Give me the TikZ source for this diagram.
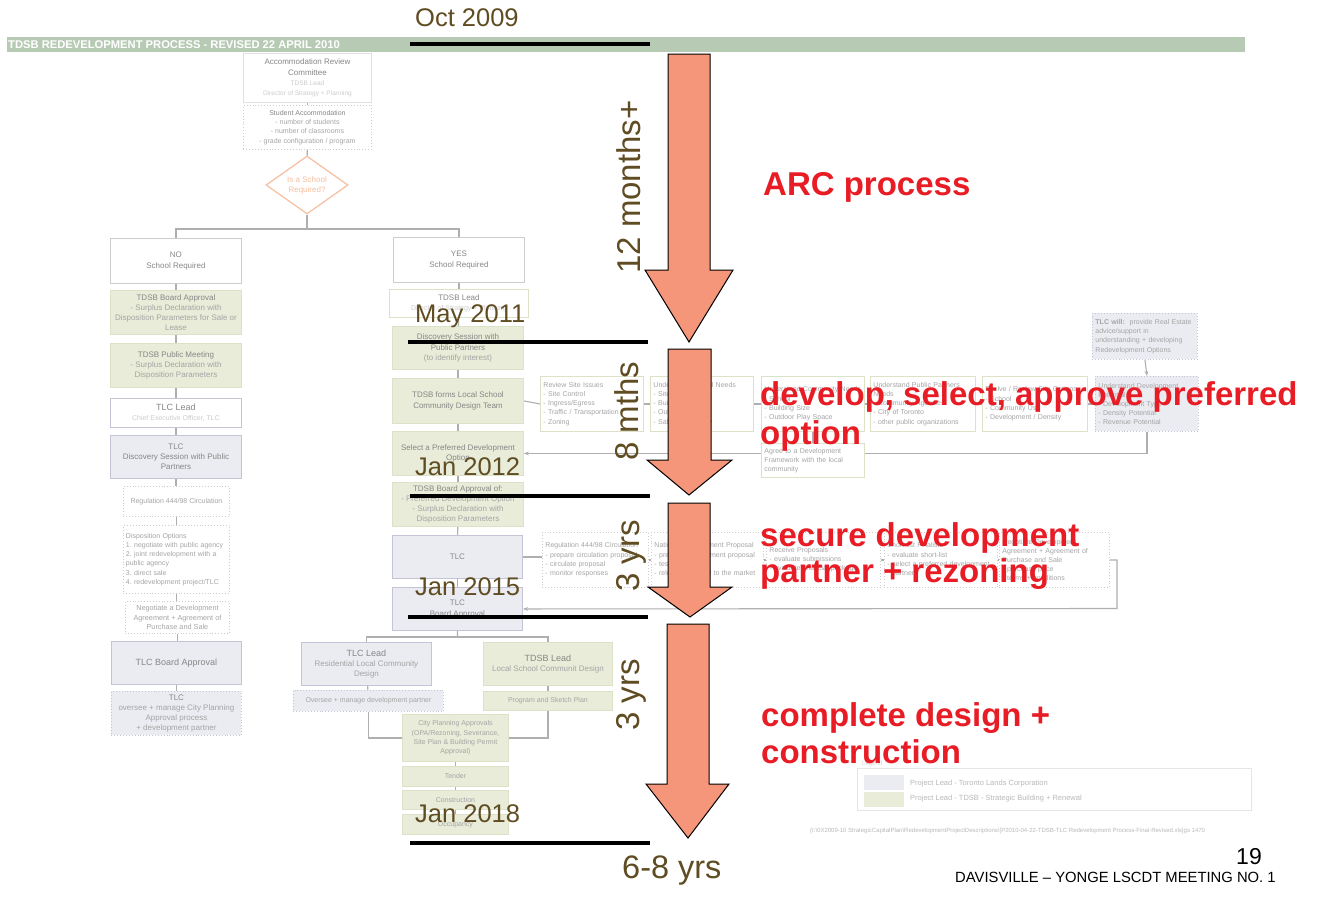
\documentclass[tikz,border=0pt]{standalone}
\usepackage{fontspec}
\setmainfont{Liberation Sans}
\usetikzlibrary{shapes.geometric,arrows.meta}
\definecolor{bandc}{RGB}{183,203,180}
\definecolor{gfill}{RGB}{232,236,216}
\definecolor{gbord}{RGB}{220,226,200}
\definecolor{lfill}{RGB}{235,235,242}
\definecolor{lbord}{RGB}{196,196,214}
\definecolor{wbord}{RGB}{205,205,205}
\definecolor{ftext}{RGB}{165,165,165}
\definecolor{ftitle}{RGB}{135,135,135}
\definecolor{conc}{RGB}{175,175,175}
\definecolor{orc}{RGB}{246,190,160}
\definecolor{datec}{RGB}{96,76,34}
\definecolor{salmon}{RGB}{245,149,121}
\definecolor{redc}{RGB}{232,28,36}
\definecolor{pathc}{RGB}{185,185,185}
\newcommand\boxttl[1]{{\color{ftitle}#1}}
\pgfdeclarelayer{bglayer}
\pgfsetlayers{bglayer,main}
\begin{document}
\begin{tikzpicture}[x=1pt,y=-1pt,
 base/.style={anchor=north west, inner sep=1pt, align=center, text=ftext, font=\fontsize{8}{10.2}\selectfont, line width=0.9},
 wbox/.style={base, draw=wbord, fill=white},
 wlbox/.style={base, draw=lbord, fill=white},
 wgbox/.style={base, draw=gbord, fill=white},
 gbox/.style={base, draw=gbord, fill=gfill},
 lbox/.style={base, draw=lbord, fill=lfill},
 dbox/.style={base, draw=wbord, dotted, fill=white},
 ldbox/.style={base, draw=lbord, dotted, fill=lfill},
 rowf/.style={font=\fontsize{7}{9.2}\selectfont, align=left, text width=#1},
 sz/.style 2 args={minimum width=#1, minimum height=#2},
 conn/.style={draw=conc, line width=1.1},
 tline/.style={draw=black, line width=4.5},
 barrow/.style={fill=salmon, draw=black, line width=1},
 datet/.style={anchor=base west, text=datec, font=\fontsize{25.5}{30}\selectfont, inner sep=0},
 dur/.style={anchor=base, rotate=90, text=datec, font=\fontsize{33}{40}\selectfont, inner sep=0},
 redt/.style={anchor=base west, text=redc, font=\bfseries\fontsize{33}{40}\selectfont, inner sep=0}
]
\useasboundingbox (0,0) rectangle (1343,898);
\begin{pgfonlayer}{bglayer}
\fill[white] (0,0) rectangle (1343,898);
\end{pgfonlayer}

% ---------- header band ----------
\fill[bandc] (7,37) rectangle (1245,52);
\node[anchor=west, text=white, font=\bfseries\fontsize{11.2}{13}\selectfont, inner sep=0] (bt) at (8,44.5) {TDSB REDEVELOPMENT PROCESS - REVISED 22 APRIL 2010};

\coordinate (split) at (307,229);
\coordinate (sp2) at (457.5,637);
\coordinate (rx) at (1117,608.5);

% ---------- top ----------
\node[wbox, sz={128}{49}, draw=wbord!60] (arc) at (243,53) {\boxttl{Accommodation Review}\\\boxttl{Committee}\\{\fontsize{6.5}{8}\selectfont\color{gray!40}TDSB Lead}\\{\fontsize{6.5}{8}\selectfont\color{gray!40}Director of Strategy + Planning}};
\node[dbox, sz={128}{44}, font=\fontsize{7}{9.2}\selectfont] (stud) at (243,105) {\boxttl{Student Accommodation}\\- number of students\\- number of classrooms\\- grade configuration / program};
\node[diamond, draw=orc, line width=1.2, text=orc, minimum width=82, minimum height=58, inner sep=0, aspect=1.4, align=center, font=\fontsize{8}{10}\selectfont] (diam) at (307,185) {Is a School\\Required?};

% ---------- left column ----------
\node[wbox, sz={131}{45}] (nob) at (110,238) {\boxttl{NO}\\\boxttl{School Required}};
\node[gbox, sz={131}{44}] (lb1) at (110,290) {\boxttl{TDSB Board Approval}\\- Surplus Declaration with\\Disposition Parameters for Sale or\\Lease};
\node[gbox, sz={131}{44}] (lb2) at (110,343) {\boxttl{TDSB Public Meeting}\\- Surplus Declaration with\\Disposition Parameters};
\node[wlbox, sz={131}{29}] (lb3) at (110,398) {{\fontsize{9}{11}\selectfont\boxttl{TLC Lead}}\\{\fontsize{7}{9}\selectfont\color{gray!40}Chief Executive Officer, TLC}};
\node[lbox, sz={131}{43}] (lb4) at (110,435) {\boxttl{TLC}\\\boxttl{Discovery Session with Public}\\\boxttl{Partners}};
\node[dbox, sz={106}{30}, font=\fontsize{7}{9}\selectfont] (lb5) at (123,486) {Regulation 444/98 Circulation};
\node[dbox, sz={106}{68}, rowf=101] (lb6) at (123,525) {Disposition Options\\1.\ negotiate with public agency\\2.\ joint redevelopment with a\\public agency\\3.\ direct sale\\4.\ redevelopment project/TLC};
\node[dbox, sz={104}{32}, font=\fontsize{7.3}{9.4}\selectfont] (lb7) at (125,601) {Negotiate a Development\\Agreement + Agreement of\\Purchase and Sale};
\node[lbox, sz={130}{43}, font=\fontsize{9}{11}\selectfont] (lb8) at (111,641) {\boxttl{TLC Board Approval}};
\node[ldbox, sz={130}{44}] (lb9) at (111,691) {\boxttl{TLC}\\oversee + manage City Planning\\Approval process\\+ development partner};

% ---------- right column ----------
\node[wbox, sz={131}{45}] (yes) at (393,237) {\boxttl{YES}\\\boxttl{School Required}};
\node[wgbox, sz={139}{28}] (rb1) at (389,289) {\boxttl{TDSB Lead}\\{\fontsize{7}{9}\selectfont\color{gray!40}Director of Strategy + Planning}};
\node[gbox, sz={131}{43}] (rb2) at (392,326) {\boxttl{Discovery Session with}\\\boxttl{Public Partners}\\(to identify interest)};
\node[gbox, sz={131}{45}] (rb3) at (392,378) {\boxttl{TDSB forms Local School}\\\boxttl{Community Design Team}};
\node[gbox, sz={131}{44}] (sel) at (392,431) {\boxttl{Select a Preferred Development}\\\boxttl{Option}};
\node[gbox, sz={131}{44}] (rb5) at (392,482) {\boxttl{TDSB Board Approval of:}\\- Preferred Development Option\\- Surplus Declaration with\\Disposition Parameters};
\node[lbox, sz={130}{43}] (tlc) at (392,535) {\boxttl{TLC}};
\node[lbox, sz={130}{43}] (tlcba) at (392,587) {\boxttl{TLC}\\\boxttl{Board Approval}};
\node[lbox, sz={130}{43}] (tlclead) at (301,642) {{\fontsize{9}{11}\selectfont\boxttl{TLC Lead}}\\Residential Local Community\\Design};
\node[ldbox, sz={150}{21}, font=\fontsize{7}{9}\selectfont] (oversee) at (293,690) {Oversee + manage development partner};
\node[gbox, sz={129}{43}] (tdlead) at (483,642) {{\fontsize{9}{11}\selectfont\boxttl{TDSB Lead}}\\Local School Communit Design};
\node[gbox, sz={129}{19}, font=\fontsize{7}{9}\selectfont] (prog) at (483,691) {Program and Sketch Plan};
\node[gbox, sz={106}{47}, font=\fontsize{7}{9.4}\selectfont] (cpa) at (402,714) {City Planning Approvals\\(OPA/Rezoning, Severance,\\Site Plan \& Building Permit\\Approval)};
\node[gbox, sz={106}{20}, font=\fontsize{7}{9}\selectfont] (tender) at (402,766) {Tender};
\node[gbox, sz={106}{19}, font=\fontsize{7}{9}\selectfont] (constr) at (402,790) {Construction};
\node[gbox, sz={106}{20}, font=\fontsize{7}{9}\selectfont] (occ) at (402,814) {Occupancy};

% ---------- row 1 ----------
\node[wgbox, sz={103}{55}, rowf=97] (r1a) at (540,376) {Review Site Issues\\- Site Control\\- Ingress/Egress\\- Traffic / Transportation\\- Zoning};
\node[wgbox, sz={103}{55}, rowf=97] (r1b) at (650,376) {Understand School Needs\\- Site Size\\- Building Size\\- Outdoor Space\\- Safety + Security};
\node[wgbox, sz={103}{55}, rowf=97] (r1c) at (761,376) {Understand Community Needs\\- School\\- Building Size\\- Outdoor Play Space};
\node[wgbox, sz={105}{55}, rowf=99] (r1d) at (870,376) {Understand Public Partners\\Needs\\- Community Agencies\\- City of Toronto\\- other public organizations};
\node[wgbox, sz={105}{55}, rowf=99] (r1e) at (982,376) {Evolve / Review Site Options\\- School\\- Community Use\\- Development / Density};
\node[ldbox, sz={103}{55}, rowf=97] (r1f) at (1095,376) {Understand Development\\Potential\\- Development Type\\- Density Potential\\- Revenue Potential};
\node[ldbox, sz={105}{46}, rowf=99] (r1g) at (1092,313) {\textbf{TLC will:}\ \ provide Real Estate\\advice/support in\\understanding + developing\\Redevelopment Options};
\node[wgbox, sz={103}{34}, rowf=97] (r1h) at (761,443) {Agree to a Development\\Framework with the local\\community};

% ---------- row 2 ----------
\node[dbox, sz={106}{55}, rowf=100] (r2a) at (542,532) {Regulation 444/98 Circulation\\- prepare circulation proposal\\- circulate proposal\\- monitor responses};
\node[dbox, sz={112}{55}, rowf=106] (r2b) at (651,532) {National Development Proposal\\- prepare development proposal\\- test the market\\- release proposal to the market};
\node[dbox, sz={114}{55}, rowf=108] (r2c) at (766,532) {Receive Proposals\\- evaluate submissions\\- evaluate financial package};
\node[dbox, sz={113}{55}, rowf=107] (r2d) at (884,532) {Short-list Finalists\\- evaluate short-list\\- select a preferred development\\\ \ partner};
\node[dbox, sz={110}{55}, rowf=104] (r2e) at (999,532) {Negotiate Development\\Agreement + Agreement of\\Purchase and Sale\\- purchase price\\- terms + conditions};

% ---------- connectors (behind boxes) ----------
\begin{pgfonlayer}{bglayer}
\draw[conn] (arc) -- (stud);
\draw[conn] (stud) -- (diam);
\draw[conn] (diam.south) -- (split);
\draw[conn] (nob.north) |- (split) -| (yes.north);
\draw[conn] (nob) -- (lb1);
\draw[conn] (lb1) -- (lb2);
\draw[conn] (lb2) -- (lb3);
\draw[conn] (lb3) -- (lb4);
\draw[conn] (lb4.south) -- (lb4.south |- lb5.north);
\draw[conn] (lb5.south) -- (lb5.south |- lb6.north);
\draw[conn] (lb6.south) -- (lb6.south |- lb7.north);
\draw[conn] (lb7.south) -- (lb7.south |- lb8.north);
\draw[conn] (lb8) -- (lb9);
\draw[conn] (yes) -- (rb1);
\draw[conn] (rb1) -- (rb2);
\draw[conn] (rb2) -- (rb3);
\draw[conn] (rb3) -- (sel);
\draw[conn] (sel) -- (rb5);
\draw[conn] (rb5) -- (tlc);
\draw[conn] (tlc) -- (tlcba);
\draw[conn] (tlcba.south) -- (sp2);
\draw[conn] (tlclead.north) |- (sp2) -| (tdlead.north);
\draw[conn] (tlclead) -- (oversee);
\draw[conn] (tdlead) -- (prog);
\draw[conn] (oversee.south) |- (cpa.west);
\draw[conn] (prog.south) |- (cpa.east);
\draw[conn] (cpa) -- (tender);
\draw[conn] (tender) -- (constr);
\draw[conn] (constr) -- (occ);
\draw[conn] (rb3.east) -- (r1a.west);
\draw[conn] (r1a.east) -- (r1b.west);
\draw[conn] (r1b.east) -- (r1c.west);
\draw[conn] (r1c.east) -- (r1d.west);
\draw[conn] (r1d.east) -- (r1e.west);
\draw[conn] (r1e.east) -- (r1f.west);
\draw[conn] (r1c.south) -- (r1h.north);
\draw[conn, -{Stealth[length=5pt]}] (r1g.south) -- (r1f.north);
\draw[conn, -{Stealth[length=5pt]}] (r1f.south) |- (sel.east);
\draw[conn] (tlc.east) -- (tlc.east -| r2a.west);
\draw[conn] (r2a.east) -- (r2b.west);
\draw[conn] (r2b.east) -- (r2c.west);
\draw[conn] (r2c.east) -- (r2d.west);
\draw[conn] (r2d.east) -- (r2e.west);
\draw[conn, -{Stealth[length=5pt]}] (r2e.east) -| (rx) -- (tlcba.east);
\end{pgfonlayer}

% ---------- legend & footer ----------
\node[anchor=north west, draw=gray!20, line width=0.9, sz={394}{42}, inner sep=0] (leg) at (857,768) {};
\node[anchor=south west, text=gray!35, font=\fontsize{6}{7}\selectfont, inner sep=0] (legt) at (862,767) {Legend};
\node[anchor=north west, fill=lfill, sz={40}{15}, inner sep=0] (sw1) at (864,775) {};
\node[anchor=north west, fill=gfill, sz={40}{15}, inner sep=0] (sw2) at (864,792) {};
\node[anchor=west, text=gray!55, font=\fontsize{7.5}{9}\selectfont, inner sep=0] (lt1) at (910,784) {Project Lead - Toronto Lands Corporation};
\node[anchor=west, text=gray!55, font=\fontsize{7.5}{9}\selectfont, inner sep=0] (lt2) at (910,799) {Project Lead - TDSB - Strategic Building + Renewal};
\node[anchor=west, text=pathc, font=\fontsize{6}{7}\selectfont, inner sep=0] (path) at (810,831) {(I:\textbackslash 0X2009-10 StrategicCapitalPlan\textbackslash RedevelopmentProjectDescriptions\textbackslash [P2010-04-22-TDSB-TLC Redevelopment Process-Final-Revised.xls]gs 1470};
\node[anchor=base east, font=\fontsize{23}{27}\selectfont, inner sep=0] (pg) at (1262,864) {19};
\node[anchor=base west, font=\fontsize{14.8}{17}\selectfont, inner sep=0] (foot) at (955,882) {DAVISVILLE – YONGE LSCDT MEETING NO. 1};

% ---------- overlay: timeline ----------
\draw[tline] (410,44) -- (650,44);
\draw[tline] (408,342) -- (648,342);
\draw[tline] (410,496) -- (650,496);
\draw[tline] (408,617) -- (648,617);
\draw[tline] (410,843) -- (650,843);

\filldraw[barrow] (668,54) -- (710,54) -- (710,270) -- (733,270) -- (689,342) -- (645,270) -- (668,270) -- cycle;
\filldraw[barrow] (668,349) -- (711,349) -- (711,460) -- (732,460) -- (689,495) -- (647,460) -- (668,460) -- cycle;
\filldraw[barrow] (668,503) -- (710,503) -- (710,587) -- (732,587) -- (690,617) -- (648,587) -- (668,587) -- cycle;
\filldraw[barrow] (667,624) -- (709,624) -- (709,784) -- (729,784) -- (688,838) -- (646,784) -- (667,784) -- cycle;

\node[datet] (t1) at (415,26) {Oct 2009};
\node[datet] (t2) at (415,322) {May 2011};
\node[datet] (t3) at (415,475) {Jan 2012};
\node[datet] (t4) at (415,595) {Jan 2015};
\node[datet] (t5) at (415,822) {Jan 2018};
\node[datet, font=\fontsize{32.5}{38}\selectfont] (t6) at (622,878) {6-8 yrs};

\node[dur] (d1) at (640,187) {12 months+};
\node[dur] (d2) at (638,411) {8 mths};
\node[dur] (d3) at (639,556) {3 yrs};
\node[dur] (d4) at (639,695) {3 yrs};

\node[redt] (x1) at (763,195) {ARC process};
\node[redt] (x2) at (760,405) {develop, select, approve preferred};
\node[redt] (x3) at (760,444) {option};
\node[redt] (x4) at (760,546) {secure development};
\node[redt] (x5) at (760,582) {partner + rezoning};
\node[redt] (x6) at (761,726) {complete design +};
\node[redt] (x7) at (761,763) {construction};
\end{tikzpicture}
\end{document}
